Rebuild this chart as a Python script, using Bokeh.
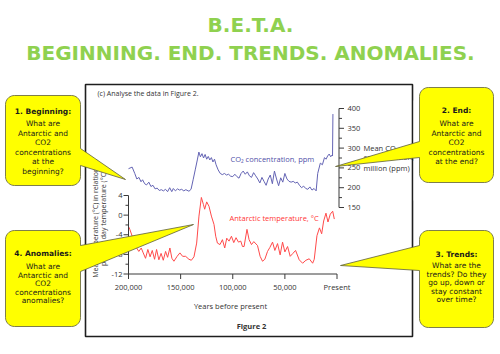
import numpy as np
from bokeh.plotting import figure
from bokeh.models import Range1d
from bokeh.embed import file_html
from bokeh.resources import INLINE
from bokeh.core.properties import value

# ---------------- data ----------------
co2_years = [200000, 196500, 194000, 192000, 190000, 188000, 186500, 184500, 182700, 180500,
             178500, 176500, 174500, 172500, 170500, 168500, 166500, 164500, 162500, 160500,
             158500, 157000, 155000, 153000, 151000, 149000, 147000, 145000, 142000, 140000,
             138000, 136000, 134000, 132500, 131000, 129500, 128000, 126500, 125000, 123500,
             122000, 120500, 119000, 117500, 116000, 114000, 112000, 110000, 108000, 106000,
             104000, 102000, 100000, 98000, 96000, 94000, 92000, 90000, 88000, 86000,
             84000, 82000, 80000, 78000, 76000, 74000, 72000, 70000, 68000, 66000,
             64000, 62000, 60000, 58000, 56000, 54000, 52000, 50000, 48000, 46000,
             44000, 42000, 40000, 38000, 36000, 34000, 32000, 30000, 28000, 26000,
             24000, 22000, 20000, 18500, 16000, 14000, 12000, 10500, 9000, 7500,
             6000, 5000, 4300, 3900]
co2_ppm = [248, 252, 236, 222, 226, 215, 220, 210, 207, 214,
           203, 206, 197, 199, 193, 195, 192, 196, 190, 200,
           190, 198, 192, 197, 194, 196, 192, 195, 191, 196,
           220, 245, 270, 290, 278, 286, 275, 284, 272, 279,
           270, 276, 265, 272, 258, 245, 236, 233, 236, 232,
           234, 229, 228, 234, 228, 224, 236, 242, 234, 240,
           230, 226, 238, 230, 222, 212, 226, 216, 206, 222,
           232, 210, 242, 222, 205, 225, 214, 236, 222, 216,
           214, 216, 212, 214, 206, 200, 204, 198, 196, 202,
           194, 198, 192, 236, 262, 258, 276, 272, 280, 285,
           278, 282, 280, 386]

temp_years = [200000, 198750, 196440, 194900, 192800, 190100, 187790, 185870, 183650, 181440,
              179300, 177210, 175000, 173080, 170870, 168750, 166640, 164420, 162500, 160290,
              158370, 156440, 153370, 150680, 148080, 145200, 142020, 139710, 137210, 134620,
              132410, 130100, 128180, 126930, 125000, 122790, 120480, 117980, 116350, 114710,
              112220, 109910, 107700, 105770, 103560, 101250, 99040, 96830, 94520, 92310,
              90670, 89140, 86350, 84330, 82020, 79810, 76250, 73750, 71440, 69230,
              66640, 64430, 61830, 59620, 57030, 54530, 52220, 50000, 47410, 44910,
              42310, 39720, 36260, 32990, 29810, 26640, 23370, 21830, 19230, 16830,
              14710, 12790, 10580, 8650, 6440, 4130, 2590]
temp_c = [-2.3, -2.9, -4.3, -5.3, -6.5, -7.4, -6.7, -7.7, -8.8, -7.0,
          -8.5, -7.2, -9.0, -7.0, -9.1, -7.8, -9.2, -7.4, -8.6, -6.7,
          -8.8, -9.4, -8.4, -7.7, -8.4, -8.4, -9.0, -9.2, -8.5, -5.7,
          -0.2, 3.6, 2.2, 1.2, 2.7, 1.8, -0.2, -1.9, -4.3, -5.7,
          -6.0, -5.0, -6.7, -4.7, -5.3, -4.3, -5.6, -4.6, -5.5, -5.3,
          -6.4, -6.4, -2.9, -5.0, -6.0, -5.4, -6.2, -8.4, -9.4, -9.0,
          -7.4, -6.6, -5.5, -7.2, -5.8, -8.1, -5.5, -7.5, -6.4, -8.4,
          -7.8, -7.2, -9.1, -9.8, -9.2, -8.9, -9.8, -9.0, -4.2, -2.6,
          -3.8, -1.2, 0.4, -1.4, 0.2, 0.8, -0.8]

co2_ticks = [150, 200, 250, 300, 350, 400]
co2_minor = [175, 225, 275, 325, 375]
temp_ticks = [4, 0, -4, -8, -12]
temp_tick_labels = ["4", "0", "-4", "-8", "-12"]
temp_minor = [2, -2, -6, -10]
year_ticks = [200000, 150000, 100000, 50000, 0]
year_tick_labels = ["200,000", "150,000", "100,000", "50,000", "Present"]

title_lines = ["B.E.T.A.", "BEGINNING. END. TRENDS. ANOMALIES."]
callout_texts = {
    "c1": ["1. Beginning:", "What are", "Antarctic and", "CO2", "concentrations", "at the", "beginning?"],
    "c2": ["2. End:", "What are", "Antarctic and", "CO2", "concentrations", "at the end?"],
    "c3": ["3. Trends:", "What are the", "trends? Do they", "go up, down or", "stay constant", "over time?"],
    "c4": ["4. Anomalies:", "What are", "Antarctic and", "CO2", "concentrations", "anomalies?"],
}

assert len(co2_years) == len(co2_ppm)
assert len(temp_years) == len(temp_c)

# ---------------- layout (pixel space, y downward) ----------------
W, H = 500, 354
X_OLD, X_NOW = 128.0, 336.5          # pixel x of 200,000 and Present
CO2_LO_PX, CO2_HI_PX = 207.0, 108.0  # pixel y of 150 and 400 ppm
T_HI_PX, T_LO_PX = 195.0, 273.5      # pixel y of +4 and -12 degC

yr_per_px = 200000.0 / (X_NOW - X_OLD)
ppm_per_px = 250.0 / (CO2_LO_PX - CO2_HI_PX)
deg_per_px = 16.0 / (T_LO_PX - T_HI_PX)

def yr_at(px):
    return 200000.0 - (px - X_OLD) * yr_per_px
def ppm_at(py):
    return 150.0 + (CO2_LO_PX - py) * ppm_per_px
def deg_at(py):
    return 4.0 + (T_HI_PX - py) * deg_per_px

p = figure(width=W, height=H, x_range=Range1d(0, W), y_range=Range1d(H, 0),
           output_backend="svg", toolbar_location=None, min_border=0,
           x_axis_location=None, y_axis_location=None)
p.grid.visible = False
p.outline_line_color = None
p.background_fill_color = "white"
p.border_fill_color = "white"

p.extra_x_ranges = {"yr": Range1d(yr_at(0), yr_at(W))}
p.extra_y_ranges = {"co2": Range1d(ppm_at(H), ppm_at(0)),
                    "temp": Range1d(deg_at(H), deg_at(0))}

AX = "#3a3a3a"
FONT = "Open Sans"
CO2_COL = "#6464b4"
T_COL = "#ff4a4a"


def txt(x, y, s, size, color, align="center", style="normal", font=FONT, angle=0.0,
        x_range_name="default", y_range_name="default", baseline="middle"):
    p.text(x=x if isinstance(x, list) else [x], y=y if isinstance(y, list) else [y],
           text=s if isinstance(s, list) else [s],
           text_font=value(font), text_font_size=f"{size}px", text_color=color,
           text_align=align, text_baseline=baseline, text_font_style=style, angle=angle,
           x_range_name=x_range_name, y_range_name=y_range_name)


# ---------------- title ----------------
GREEN = "#8fd14f"
txt(250, 24, title_lines[0], 20, GREEN, style="bold", font="DejaVu Sans")
txt(250, 52, title_lines[1], 20, GREEN, style="bold", font="DejaVu Sans")

# ---------------- embedded figure ----------------
p.quad(left=[85], right=[412], top=[84], bottom=[336], fill_color="white",
       line_color="#1e1e1e", line_width=1.6)

txt(97, 93, "(c)  Analyse the data in Figure 2.", 7, "#333333", align="left")

# CO2 series + right axis
p.line(co2_years, co2_ppm, x_range_name="yr", y_range_name="co2", line_color=CO2_COL, line_width=1)
tick_px = 5
p.segment(x0=[338.5], y0=[150], x1=[338.5], y1=[400], y_range_name="co2", line_color=AX, line_width=1)
p.segment(x0=[338.5] * len(co2_ticks), y0=co2_ticks, x1=[338.5 + tick_px] * len(co2_ticks), y1=co2_ticks,
          y_range_name="co2", line_color=AX, line_width=1)
p.segment(x0=[338.5] * len(co2_minor), y0=co2_minor, x1=[338.5 + 3] * len(co2_minor), y1=co2_minor,
          y_range_name="co2", line_color=AX, line_width=1)
txt([347] * len(co2_ticks), co2_ticks, [str(t) for t in co2_ticks], 7.5, "#333333", align="left",
    y_range_name="co2")
txt(363, 147, "Mean CO\u2082", 7.5, "#333333", align="left")
txt(363, 156.5, "concentration, parts per", 7.5, "#333333", align="left")
txt(363, 167, "million (ppm)", 7.5, "#333333", align="left")
txt(230, 158, "CO\u2082 concentration, ppm", 7.5, "#5050a8", align="left")

# temperature series + left axis + bottom axis
p.line(temp_years, temp_c, x_range_name="yr", y_range_name="temp", line_color=T_COL, line_width=1)
p.segment(x0=[X_OLD], y0=[4], x1=[X_OLD], y1=[-12], y_range_name="temp", line_color=AX, line_width=1)
p.segment(x0=[X_OLD] * len(temp_ticks), y0=temp_ticks, x1=[X_OLD - tick_px] * len(temp_ticks), y1=temp_ticks,
          y_range_name="temp", line_color=AX, line_width=1)
p.segment(x0=[X_OLD] * len(temp_minor), y0=temp_minor, x1=[X_OLD - 3] * len(temp_minor), y1=temp_minor,
          y_range_name="temp", line_color=AX, line_width=1)
txt([122] * len(temp_ticks), temp_ticks, temp_tick_labels, 7.5, "#333333", align="right",
    y_range_name="temp")
txt(229, 217, "Antarctic temperature, \u00b0C", 7.5, "#ff3636", align="left")

x_axis_deg = temp_ticks[-1]
tick_deg = tick_px * deg_per_px
p.segment(x0=[year_ticks[0]], y0=[x_axis_deg], x1=[year_ticks[-1]], y1=[x_axis_deg],
          x_range_name="yr", y_range_name="temp", line_color=AX, line_width=1)
p.segment(x0=year_ticks, y0=[x_axis_deg] * len(year_ticks), x1=year_ticks,
          y1=[x_axis_deg - tick_deg] * len(year_ticks),
          x_range_name="yr", y_range_name="temp", line_color=AX, line_width=1)
p.text(x=year_ticks, y=[x_axis_deg] * len(year_ticks), text=year_tick_labels, y_offset=13,
       x_range_name="yr", y_range_name="temp", text_font=value(FONT), text_font_size="7.5px",
       text_color="#333333", text_align="center", text_baseline="middle")
txt(230, 305, "Years before present", 7.5, "#333333")
txt(251, 325, "Figure 2", 7.5, "#333333", style="bold")

txt(95, 218, "Mean temperature (\u00b0C) in relation to", 7, "#333333", angle=np.pi / 2)
txt(103, 218, "present day temperature (\u00b0C)", 7, "#333333", angle=np.pi / 2)

# clip the figure's right edge
p.quad(left=[413.2], right=[419], top=[100], bottom=[200], fill_color="white", line_color=None)


# ---------------- callouts ----------------
def callout(x0, y0, x1, y1, r, side, b0, b1, tip):
    pts = []

    def arc(cx, cy, a0, a1):
        for a in np.linspace(a0, a1, 10):
            pts.append((cx + r * np.cos(a), cy + r * np.sin(a)))

    arc(x0 + r, y0 + r, np.pi, 1.5 * np.pi)
    arc(x1 - r, y0 + r, 1.5 * np.pi, 2 * np.pi)
    if side == "right":
        pts.extend([(x1, b0), tip, (x1, b1)])
    arc(x1 - r, y1 - r, 0, 0.5 * np.pi)
    arc(x0 + r, y1 - r, 0.5 * np.pi, np.pi)
    if side == "left":
        pts.extend([(x0, b1), tip, (x0, b0)])
    xs = [q[0] for q in pts]
    ys = [q[1] for q in pts]
    p.patch(xs, ys, fill_color="#ffff00", line_color="#5e5e3c", line_width=0.8)


def callout_text(cx, ys, lines):
    for i, (yy, s) in enumerate(zip(ys, lines)):
        txt(cx, yy, s, 7.5, "#1a1a1a", style="bold" if i == 0 else "normal", font="DejaVu Sans")


callout(5, 95, 80, 185, 9, "right", 148, 165, (125, 179))
callout_text(42.5, [111, 123, 132.5, 142, 151.5, 161, 170.5], callout_texts["c1"])

callout(419, 87, 493, 182, 9, "left", 141, 157, (335, 166))
callout_text(456, [110, 123, 132.5, 142, 151.5, 161], callout_texts["c2"])

callout(419, 230, 493, 327, 9, "left", 245, 270, (340, 265))
callout_text(456, [254, 265, 273.5, 282, 290.5, 299], callout_texts["c3"])

callout(5, 230, 80, 326, 9, "right", 245, 271, (193, 224))
callout_text(42.5, [253, 266, 274.5, 283, 291.5, 300], callout_texts["c4"])

open("out.html", "w").write(file_html(p, INLINE))
